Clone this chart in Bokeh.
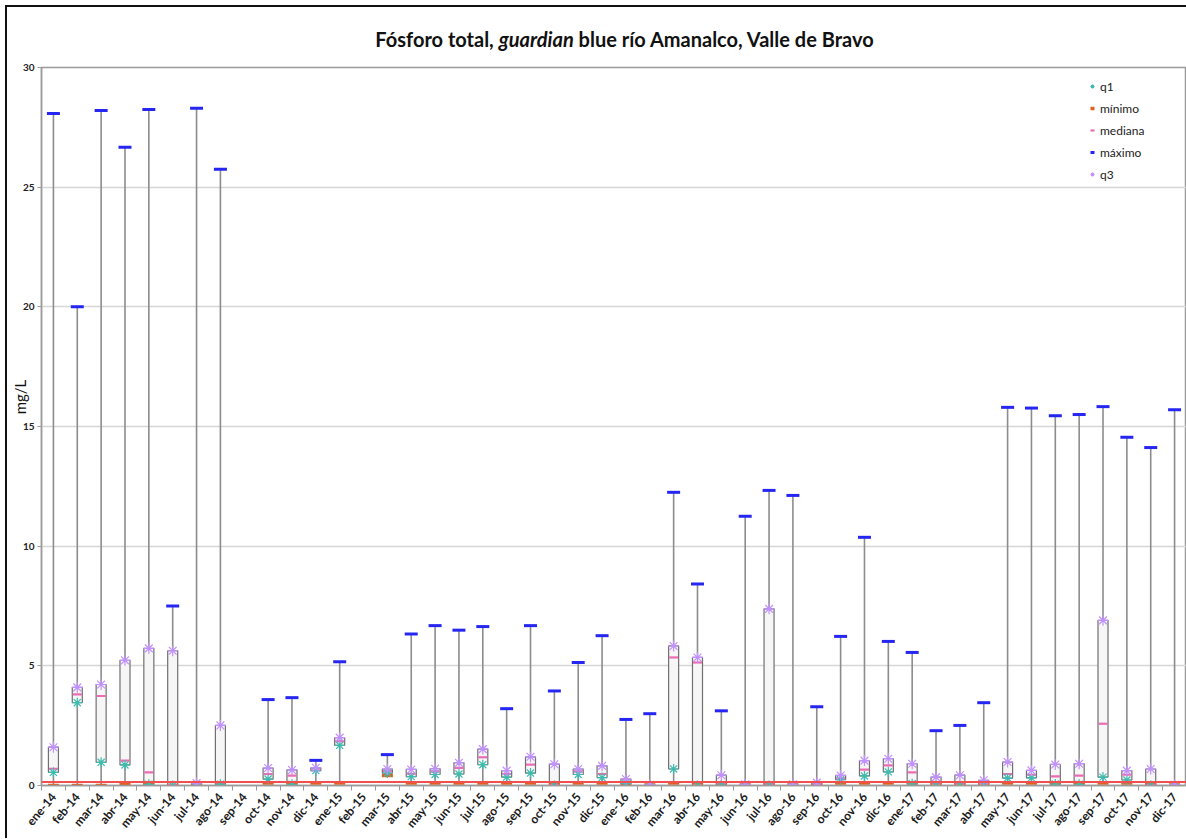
import numpy as np
from math import radians
from bokeh.plotting import figure
from bokeh.layouts import column, row
from bokeh.models import (Range1d, FixedTicker, Span, Legend, LegendItem,
                          ColumnDataSource, Div)
from bokeh.embed import file_html
from bokeh.resources import INLINE

NA = float("nan")

meses = ["ene-14", "feb-14", "mar-14", "abr-14", "may-14", "jun-14", "jul-14", "ago-14",
         "sep-14", "oct-14", "nov-14", "dic-14",
         "ene-15", "feb-15", "mar-15", "abr-15", "may-15", "jun-15", "jul-15", "ago-15",
         "sep-15", "oct-15", "nov-15", "dic-15",
         "ene-16", "feb-16", "mar-16", "abr-16", "may-16", "jun-16", "jul-16", "ago-16",
         "sep-16", "oct-16", "nov-16", "dic-16",
         "ene-17", "feb-17", "mar-17", "abr-17", "may-17", "jun-17", "jul-17", "ago-17",
         "sep-17", "oct-17", "nov-17", "dic-17"]

minimo = [0.0, 0.0, 0.0, 0.05, 0.05, 0.0, 0.0, 0.1, NA, 0.1, 0.1, 0.1,
          0.1, NA, 0.42, 0.1, 0.1, 0.1, 0.1, 0.1, 0.1, 0.05, 0.1, 0.1,
          0.05, 0.02, 0.1, 0.1, 0.1, 0.02, 0.05, 0.02, 0.07, 0.1, 0.1, 0.1,
          0.1, 0.1, 0.1, 0.1, 0.1, 0.1, 0.1, 0.1, 0.1, 0.1, 0.05, 0.02]
q1 = [0.55, 3.46, 0.97, 0.86, 0.05, 0.0, 0.02, 0.05, NA, 0.27, 0.05, 0.62,
      1.68, NA, 0.52, 0.37, 0.46, 0.48, 0.87, 0.35, 0.52, 0.0, 0.46, 0.33,
      0.08, 0.0, 0.69, 0.0, 0.02, 0.02, 0.0, 0.02, 0.0, 0.24, 0.40, 0.57,
      0.07, 0.0, 0.0, 0.0, 0.31, 0.32, 0.06, 0.05, 0.35, 0.23, 0.0, 0.0]
mediana = [0.70, 3.81, 3.74, 1.04, 0.55, 0.03, 0.05, 0.12, NA, 0.48, 0.41, 0.70,
           1.85, NA, 0.60, 0.49, 0.59, 0.74, 1.18, 0.48, 0.87, 0.03, 0.59, 0.48,
           0.14, 0.02, 5.35, 5.14, 0.10, 0.03, 0.06, 0.03, 0.07, 0.30, 0.66, 0.84,
           0.55, 0.10, 0.10, 0.10, 0.48, 0.45, 0.38, 0.41, 2.58, 0.45, 0.03, 0.02]
q3 = [1.60, 4.10, 4.22, 5.23, 5.73, 5.63, 0.10, 2.51, NA, 0.73, 0.65, 0.74,
      2.00, NA, 0.69, 0.67, 0.70, 0.95, 1.52, 0.62, 1.20, 0.89, 0.69, 0.82,
      0.27, 0.03, 5.83, 5.35, 0.43, 0.05, 7.38, 0.05, 0.12, 0.42, 1.04, 1.12,
      0.91, 0.35, 0.43, 0.22, 0.98, 0.63, 0.88, 0.91, 6.90, 0.62, 0.69, 0.03]
maximo = [28.08, 20.0, 28.2, 26.67, 28.25, 7.5, 28.3, 25.75, NA, 3.59, 3.67, 1.05,
          5.17, NA, 1.29, 6.33, 6.68, 6.49, 6.64, 3.21, 6.68, 3.95, 5.14, 6.26,
          2.76, 3.0, 12.25, 8.42, 3.12, 11.25, 12.33, 12.12, 3.29, 6.23, 10.37, 6.02,
          5.56, 2.29, 2.51, 3.46, 15.8, 15.77, 15.45, 15.5, 15.83, 14.55, 14.12, 15.7]
limite = 0.15
y_ticks = [0, 5, 10, 15, 20, 25, 30]

FONT = "Lato"

n = len(meses)
pos = np.arange(n) + 0.5   # centre of each month slot on the axis

src = ColumnDataSource(dict(
    pos=pos,
    mes=meses,
    minimo=np.array(minimo, dtype=float),
    q1=np.array(q1, dtype=float),
    mediana=np.array(mediana, dtype=float),
    q3=np.array(q3, dtype=float),
    maximo=np.array(maximo, dtype=float),
))

LAB_W = 12
W = 1186 - 7 - LAB_W
H = 779
p = figure(x_range=Range1d(0, n), y_range=Range1d(0, 30),
           width=W, height=H,
           output_backend="svg", toolbar_location=None,
           min_border_left=20, min_border_right=0,
           min_border_top=8, min_border_bottom=51)
p.margin = 0

p.outline_line_color = "#9a9a9a"
p.outline_line_width = 1.5
p.xgrid.visible = False
p.background_fill_color = "white"
p.border_fill_color = "white"

# whiskers
p.segment(x0="pos", y0="minimo", x1="pos", y1="maximo", source=src,
          line_color="#8c8c8c", line_width=1.6)
# boxes
p.vbar(x="pos", bottom="q1", top="q3", width=0.42, source=src,
       fill_color="#f6f6f6", line_color="#707070", line_width=1.2)

r_min = p.scatter(x="pos", y="minimo", source=src, marker="dash", size=11,
                  line_color="#e2601c", line_width=3.5)
r_med = p.scatter(x="pos", y="mediana", source=src, marker="dash", size=9,
                  line_color="#ec6cb4", line_width=2.2)
r_max = p.scatter(x="pos", y="maximo", source=src, marker="dash", size=13,
                  line_color="#2626f2", line_width=3)
r_q1 = p.scatter(x="pos", y="q1", source=src, marker="asterisk", size=10,
                 line_color="#3cbcae", line_width=1.2)
r_q3 = p.scatter(x="pos", y="q3", source=src, marker="asterisk", size=11,
                 line_color="#c290ff", line_width=1.2)

p.add_layout(Span(location=limite, dimension="width", line_color="#f25050",
                  line_width=2))

# y axis
ya = p.yaxis[0]
ya.ticker = FixedTicker(ticks=y_ticks, minor_ticks=[])
ya.axis_line_color = "#9a9a9a"
ya.axis_line_width = 1.5
ya.major_tick_line_color = "#9a9a9a"
ya.major_tick_out = 4
ya.major_tick_in = 0
ya.major_label_text_font = FONT
ya.major_label_text_font_style = "bold"
ya.major_label_text_font_size = "10px"
ya.major_label_text_color = "#222222"
ya.major_label_standoff = 3
p.ygrid.grid_line_color = "#d6d6d6"
p.ygrid.grid_line_width = 1.5

# x axis: month labels at slot centres, tick marks at slot boundaries
xa = p.xaxis[0]
xa.ticker = FixedTicker(ticks=list(pos), minor_ticks=list(range(n + 1)))
xa.major_label_overrides = {float(x): m for x, m in zip(pos, meses)}
xa.major_label_orientation = radians(50)
xa.major_tick_out = 0
xa.major_tick_in = 0
xa.minor_tick_out = 5
xa.minor_tick_in = 0
xa.minor_tick_line_color = "#9a9a9a"
xa.axis_line_color = "#9a9a9a"
xa.axis_line_width = 1.5
xa.major_label_text_font = FONT
xa.major_label_text_font_style = "bold"
xa.major_label_text_font_size = "12px"
xa.major_label_text_color = "#1a1a1a"
xa.major_label_standoff = 4

legend = Legend(items=[LegendItem(label="q1", renderers=[r_q1]),
                       LegendItem(label="mínimo", renderers=[r_min]),
                       LegendItem(label="mediana", renderers=[r_med]),
                       LegendItem(label="máximo", renderers=[r_max]),
                       LegendItem(label="q3", renderers=[r_q3])],
                location=(1040, 596))
legend.background_fill_alpha = 0
legend.border_line_alpha = 0
legend.label_text_font = FONT
legend.label_text_font_size = "12px"
legend.label_text_color = "#222222"
legend.glyph_width = 10
legend.glyph_height = 18
legend.spacing = 4
legend.label_standoff = 3
legend.padding = 6
legend.margin = 0
legend.label_height = 18
p.add_layout(legend)

# y-axis title, rotated, beside the plot (drawn above the figure's white border)
ylab = Div(
    text=('<div style="position:absolute; left:14px; top:338px; '
          'transform: translate(-50%, -50%) rotate(-90deg); white-space: nowrap; '
          'font-family: Lato; font-size: 15px; color: #111111;">mg/L</div>'),
    width=LAB_W, height=H,
    styles={"position": "relative", "overflow": "visible", "z-index": "10"})
ylab.margin = 0

titulo = Div(
    text="<b>Fósforo total, <i>guardian</i> blue río Amanalco, Valle de Bravo</b>",
    width=W + LAB_W, height=52,
    styles={"font-family": FONT, "font-size": "20px", "color": "#111111",
            "text-align": "center", "line-height": "24px",
            "padding-top": "20px", "padding-left": "56px",
            "box-sizing": "border-box", "overflow": "hidden",
            "background-color": "white"})
titulo.margin = 0

cuerpo = row(ylab, p, spacing=0)
cuerpo.margin = 0

page = column(titulo, cuerpo, spacing=0,
              styles={"margin-left": "5px", "margin-top": "5px",
                      "border-left": "2px solid #111111",
                      "border-top": "2px solid #111111",
                      "background-color": "white"})
page.margin = 0

open("out.html", "w").write(file_html(page, INLINE))
